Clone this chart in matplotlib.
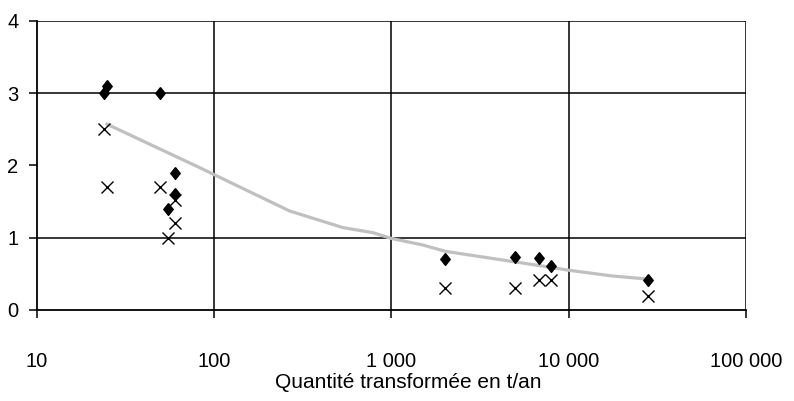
import matplotlib
matplotlib.use("Agg")
import matplotlib.pyplot as plt
from matplotlib.ticker import FixedLocator, FuncFormatter

plt.rcParams['font.family'] = ['Liberation Sans', 'DejaVu Sans']

# Diamond series
dia_x = [24, 25, 50, 60, 60, 55, 2000, 5000, 6800, 8000, 28000]
dia_y = [3.0, 3.1, 3.0, 1.9, 1.6, 1.4, 0.71, 0.73, 0.72, 0.61, 0.41]

# Cross series
crs_x = [24, 25, 50, 60, 60, 55, 2000, 5000, 6800, 8000, 28000]
crs_y = [2.5, 1.7, 1.7, 1.52, 1.2, 1.0, 0.31, 0.31, 0.41, 0.41, 0.19]

# Gray curve
line_x = [24.5, 83, 267, 533, 787, 1000, 1500, 2030, 3140, 4840, 7470, 10000, 17700, 27300]
line_y = [2.58, 1.97, 1.37, 1.14, 1.07, 0.99, 0.90, 0.81, 0.74, 0.67, 0.60, 0.55, 0.47, 0.43]

x_ticks = [10, 100, 1000, 10000, 100000]
x_tick_labels = ['10', '100', '1 000', '10 000', '100 000']
y_ticks = [0, 1, 2, 3, 4]
x_label = 'Quantité transformée en t/an'

fig = plt.figure(figsize=(7.94, 4.01), dpi=100)
ax = fig.add_axes([0.046, 0.227, 0.8935, 0.721])

ax.set_xscale('log')
ax.set_xlim(10, 100000)
ax.set_ylim(0, 4)

# gridlines (y=2 has none in the reference)
for xv in x_ticks[1:]:
    ax.axvline(xv, color='black', lw=1.1, zorder=1)
for yv in [1, 3, 4]:
    ax.axhline(yv, color='black', lw=1.1, zorder=1)

ax.plot(line_x, line_y, color='#c0c0c0', lw=2.3, zorder=2, solid_capstyle='butt')

diamond = [(0, 1), (0.8, 0), (0, -1), (-0.8, 0), (0, 1)]
ax.plot(dia_x, dia_y, linestyle='none', marker=diamond, markersize=8.5,
        color='black', zorder=3)
ax.plot(crs_x, crs_y, linestyle='none', marker='x', markersize=8,
        markeredgewidth=1.0, color='black', zorder=3)

ax.xaxis.set_major_locator(FixedLocator(x_ticks))
ax.xaxis.set_minor_locator(FixedLocator([]))
ax.xaxis.set_major_formatter(FuncFormatter(lambda v, p: x_tick_labels[x_ticks.index(int(round(v)))] if int(round(v)) in x_ticks else ''))
ax.yaxis.set_major_locator(FixedLocator(y_ticks))

ax.tick_params(axis='x', direction='out', length=6, width=1.1, pad=24, labelsize=14.5)
ax.tick_params(axis='y', direction='out', length=6, width=1.1, pad=7, labelsize=14.5)

for s in ['left', 'bottom']:
    ax.spines[s].set_linewidth(1.3)
for s in ['top', 'right']:
    ax.spines[s].set_visible(False)

ax.set_xlabel(x_label, fontsize=15, labelpad=2)
ax.xaxis.label.set_x(0.5236)

fig.savefig('out.png', dpi=100)
